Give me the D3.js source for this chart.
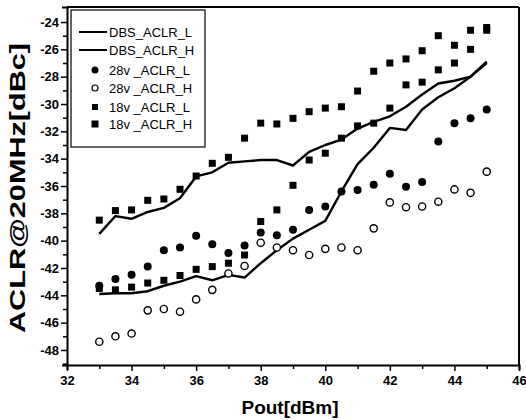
<!DOCTYPE html>
<html><head><meta charset="utf-8">
<script src="https://cdn.jsdelivr.net/npm/d3@7"></script>
<style>body{margin:0;background:#fff}svg{display:block}</style>
</head><body>
<svg id="c" width="526" height="420"></svg>
<script>
const pout = [33,33.5,34,34.5,35,35.5,36,36.5,37,37.5,38,38.5,39,39.5,40,40.5,41,41.5,42,42.5,43,43.5,44,44.5,45];
const dbsL = [-39.5,-38.2,-38.4,-37.9,-37.6,-36.9,-35.3,-35.0,-34.3,-34.2,-34.1,-34.1,-34.5,-33.5,-33.0,-32.6,-31.8,-31.3,-30.9,-30.2,-29.3,-28.5,-28.3,-28.0,-26.9];
const dbsH = [-43.9,-43.85,-43.85,-43.7,-43.3,-43.0,-42.6,-42.9,-42.5,-42.7,-41.65,-40.7,-39.85,-39.2,-38.55,-36.4,-34.4,-33.2,-31.75,-31.9,-30.4,-29.5,-28.85,-28.0,-27.0];
const v28L = [-43.3,-42.8,-42.5,-41.9,-40.7,-40.5,-39.65,-40.27,-40.9,-40.35,-39.4,-39.6,-39.2,-37.75,-37.5,-36.4,-36.3,-35.9,-35.1,-36.05,-35.7,-32.75,-31.4,-31.05,-30.4];
const v28H = [-47.4,-47.0,-46.8,-45.1,-45.0,-45.2,-44.3,-43.6,-42.4,-41.85,-40.15,-40.5,-40.7,-41.05,-40.6,-40.5,-40.7,-39.1,-37.2,-37.55,-37.5,-37.15,-36.25,-36.5,-34.95];
const v18L = [-38.5,-37.8,-37.75,-37.05,-36.95,-36.24,-35.27,-34.34,-33.9,-32.5,-31.4,-31.46,-31.05,-30.56,-30.3,-30.2,-29.05,-27.6,-27.0,-26.7,-26.1,-25.0,-25.7,-24.6,-24.6];
const v18H = [-43.5,-43.6,-43.4,-43.1,-42.9,-42.55,-42.1,-41.9,-41.65,-41.05,-38.6,-37.75,-35.95,-34.1,-33.6,-32.5,-31.6,-31.4,-30.3,-28.6,-28.4,-27.5,-27.0,-26.0,-24.4];
const xTicks = [32,34,36,38,40,42,44,46];
const yTicks = [-48,-46,-44,-42,-40,-38,-36,-34,-32,-30,-28,-26,-24];
const legendNames = ["DBS_ACLR_L","DBS_ACLR_H","28v _ACLR_L","28v _ACLR_H","18v _ACLR_L","18v _ACLR_H"];

const svg = d3.select("#c");
const L=67,R=519,T=7,B=365;
const x = d3.scaleLinear().domain([32,46]).range([L,R]);
const y = d3.scaleLinear().domain([-49.1,-22.9]).range([B,T]);
const font = "'Liberation Sans', Arial, sans-serif";

// frame
svg.append("line").attr("x1",L).attr("x2",R).attr("y1",T).attr("y2",T).attr("stroke","#000").attr("stroke-width",2);
svg.append("line").attr("x1",R).attr("x2",R).attr("y1",T).attr("y2",B).attr("stroke","#000").attr("stroke-width",2);

// axes
const xAxis = d3.axisBottom(x).tickValues(d3.range(32,46.01,1)).tickSize(5).tickFormat(d => xTicks.includes(d) ? d : "");
const gx = svg.append("g").attr("transform",`translate(0,${B})`).call(xAxis);
gx.select(".domain").attr("stroke-width",2);
gx.selectAll(".tick line").attr("stroke-width",1.5).attr("y2", d => xTicks.includes(d)?6:4);
gx.selectAll("text").attr("font-family",font).attr("font-weight","bold").attr("font-size",13).attr("fill","#000").attr("dy","0.9em");

const yAxis = d3.axisLeft(y).tickValues(d3.range(-49,-23.5,1)).tickSize(5).tickFormat(d => yTicks.includes(d) ? d : "");
const gy = svg.append("g").attr("transform",`translate(${L},0)`).call(yAxis);
gy.select(".domain").attr("stroke-width",2);
gy.selectAll(".tick line").attr("stroke-width",1.5).attr("x2", d => yTicks.includes(d)?-6:-4);
gy.selectAll("text").attr("font-family",font).attr("font-weight","bold").attr("font-size",13).attr("fill","#000").attr("x",-8);

// titles
svg.append("text").attr("x",290).attr("y",414).attr("text-anchor","middle")
  .attr("font-family",font).attr("font-weight","bold").attr("font-size",19).text("Pout[dBm]");
svg.append("text").attr("transform",`translate(25,188) rotate(-90)`).attr("text-anchor","middle")
  .attr("font-family",font).attr("font-weight","bold").attr("font-size",22)
  .attr("textLength",290).attr("lengthAdjust","spacingAndGlyphs").text("ACLR@20MHz[dBc]");

// lines
const line = d3.line().x((d,i)=>x(pout[i])).y(d=>y(d));
[dbsL,dbsH].forEach(s=>{
  svg.append("path").datum(s).attr("d",line).attr("fill","none").attr("stroke","#000").attr("stroke-width",2.4).attr("stroke-linejoin","round");
});

// markers
const g = svg.append("g");
g.selectAll(".sq1").data(v18L).join("rect").attr("x",(d,i)=>x(pout[i])-3.5).attr("y",d=>y(d)-3.5).attr("width",7).attr("height",7).attr("fill","#000");
g.selectAll(".sq2").data(v18H).join("rect").attr("x",(d,i)=>x(pout[i])-3.5).attr("y",d=>y(d)-3.5).attr("width",7).attr("height",7).attr("fill","#000");
g.selectAll(".c1").data(v28L).join("circle").attr("cx",(d,i)=>x(pout[i])).attr("cy",d=>y(d)).attr("r",4).attr("fill","#000");
g.selectAll(".c2").data(v28H).join("circle").attr("cx",(d,i)=>x(pout[i])).attr("cy",d=>y(d)).attr("r",3.6).attr("fill","#fff").attr("stroke","#000").attr("stroke-width",1.4);

// legend
const lg = svg.append("g");
lg.append("rect").attr("x",71).attr("y",10).attr("width",134).attr("height",137).attr("fill","#fff").attr("stroke","#000").attr("stroke-width",1.2);
const ly = [32,50,70,88,107,124];
legendNames.forEach((n,i)=>{
  const yy = ly[i];
  if(i<2){
    lg.append("line").attr("x1",79).attr("x2",107).attr("y1",yy).attr("y2",yy).attr("stroke","#000").attr("stroke-width",2);
  } else if(i===2){
    lg.append("circle").attr("cx",95).attr("cy",yy).attr("r",3.5).attr("fill","#000");
  } else if(i===3){
    lg.append("circle").attr("cx",95).attr("cy",yy).attr("r",3).attr("fill","#fff").attr("stroke","#000").attr("stroke-width",1.2);
  } else if(i===4){
    lg.append("rect").attr("x",92).attr("y",yy-3).attr("width",6).attr("height",6).attr("fill","#000");
  } else {
    lg.append("rect").attr("x",91.5).attr("y",yy-3.5).attr("width",7).attr("height",7).attr("fill","#000");
  }
  lg.append("text").attr("x",109).attr("y",yy+4.5).attr("font-family",font).attr("font-size",13).text(n);
});
</script>
</body></html>
